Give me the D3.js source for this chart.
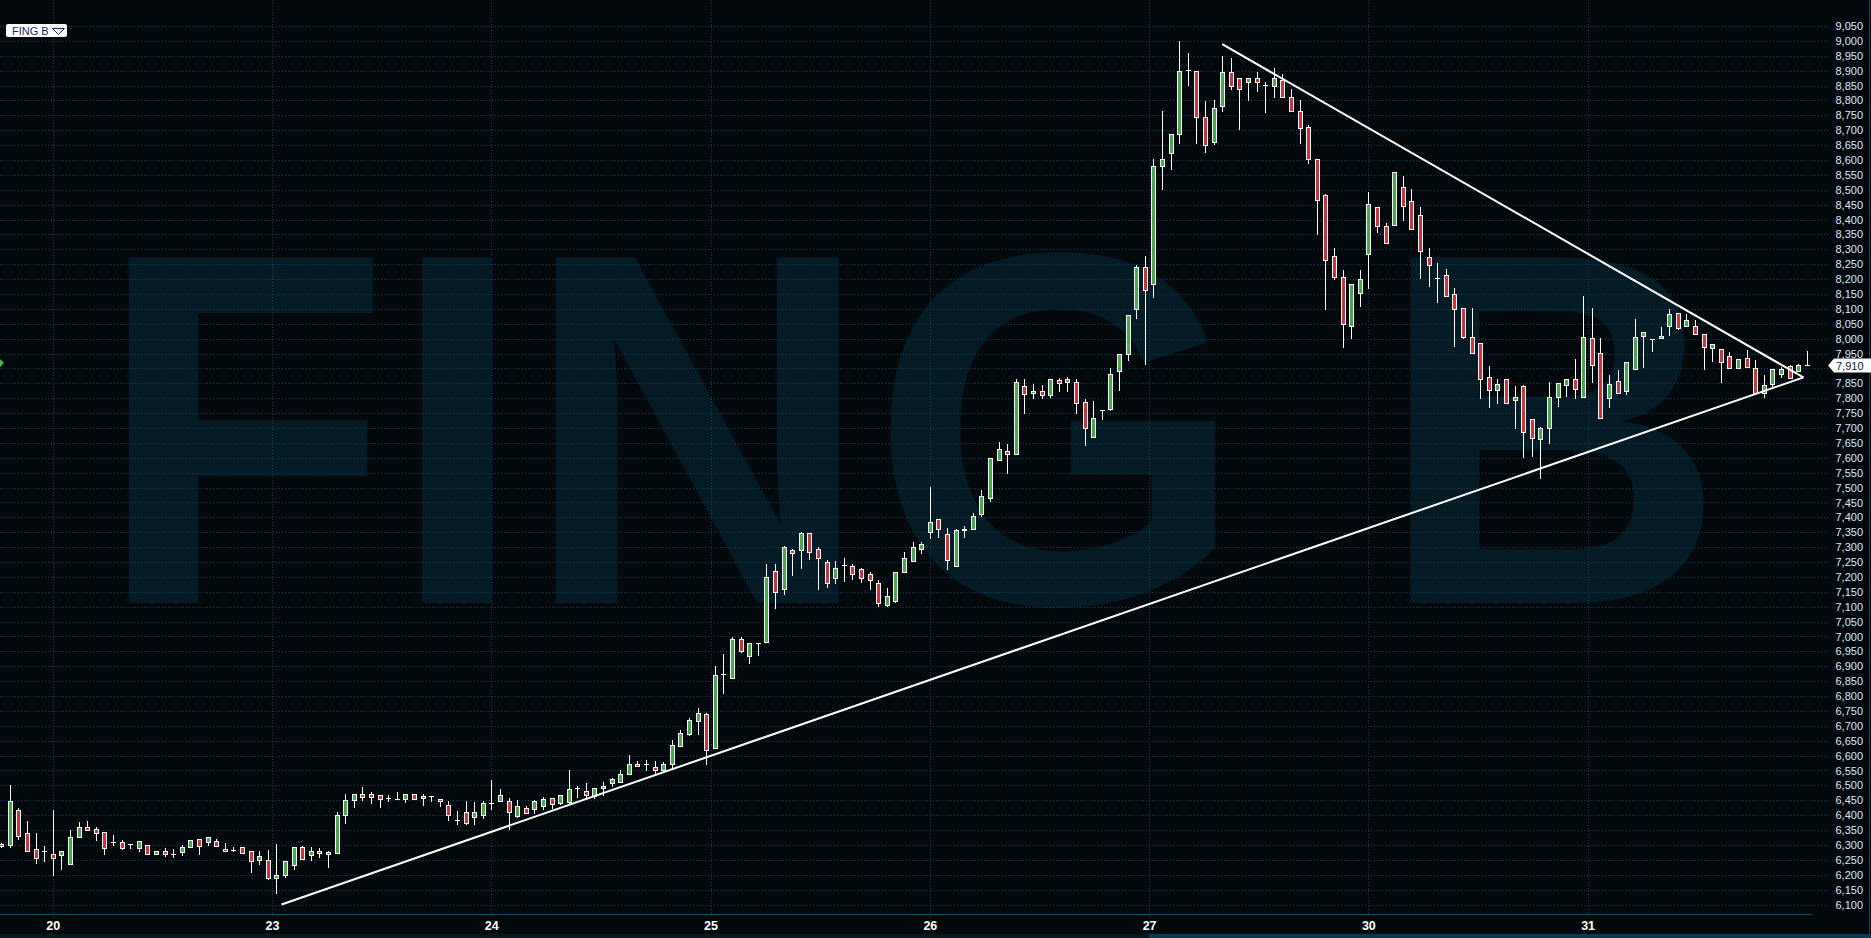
<!DOCTYPE html>
<html><head><meta charset="utf-8">
<script src="https://cdn.jsdelivr.net/npm/d3@7"></script>
<style>
html,body{margin:0;padding:0;background:#03080c;overflow:hidden}
svg{display:block}
</style></head><body>
<svg id="c" width="1871" height="938"></svg>
<script>
// ---- data ----
const symbol = "FING B";
const firstIndex = -6;   // candle index of the first (partial) candle; 0 = first candle of day 20
const opens = [6302,6301,6419,6341,6288,6280,
6271,6267,6237,6325,6361,6355,6345,6310,6311,6303,6291,6301,6271,6279,6270,6276,6294,6321,6311,6314,6288,6283,6294,6281,6251,6251,
6190,6200,6232,6293,6265,6279,6269,6274,6400,6450,6470,6470,6467,6457,6454,6453,6470,6457,6464,6453,6433,6384,6410,6395,6402,
6442,6449,6448,6398,6423,6422,6430,6457,6441,6445,6490,6480,6466,6490,6509,6510,6537,6571,6573,6561,6551,6571,6631,6672,6715,
6741,6624,6874,6859,6990,6935,6977,6980,7221,7160,7289,7289,7346,7295,7249,7198,7239,7238,7225,7211,7181,7106,7120,7215,7252,7295,
7352,7393,7343,7238,7356,7362,7412,7466,7591,7624,7614,7840,7816,7823,7812,7860,7853,7853,7786,7671,7761,7765,7893,7950,8101,
8242,8182,8581,8622,8689,8902,8900,8743,8662,8783,8894,8874,8862,8874,8853,8849,8870,8813,8763,8712,8605,8481,8279,8206,8044,8152,
8286,8443,8380,8383,8508,8464,8414,8275,8205,8213,8151,8102,8004,7987,7873,7827,7866,7794,7840,7729,7662,7699,7803,7845,7864,7803,
8001,7951,7800,7857,7823,7898,8008,8000,8001,8043,8085,8044,8044,8016,7968,7964,7943,7900,7936,7903,7819,7847,7880,7907,7892,7910];
const highs = [6305,6500,6424,6379,6341,6295,
6416,6279,6351,6376,6379,6360,6345,6335,6316,6303,6314,6301,6281,6291,6288,6301,6318,6321,6325,6321,6308,6294,6294,6281,6281,6284,
6302,6245,6292,6297,6292,6289,6279,6410,6470,6470,6494,6478,6467,6467,6478,6470,6470,6470,6464,6453,6446,6414,6448,6443,6448,
6518,6487,6457,6450,6431,6451,6461,6457,6467,6552,6499,6508,6490,6511,6524,6551,6602,6581,6584,6581,6577,6652,6686,6725,6760,
6744,6900,6940,6999,6999,6979,6977,7243,7243,7304,7293,7352,7346,7302,7256,7253,7263,7243,7231,7218,7191,7162,7218,7283,7318,7318,
7502,7393,7365,7362,7372,7414,7493,7601,7652,7645,7863,7863,7847,7843,7863,7868,7873,7866,7797,7790,7761,7900,7950,8081,8246,
8279,8602,8764,8688,9001,8961,8900,8797,8801,8949,8942,8874,8874,8894,8863,8910,8890,8837,8800,8717,8605,8485,8304,8232,8182,8232,
8491,8443,8390,8561,8546,8502,8443,8303,8253,8233,8171,8102,8102,7987,7908,7864,7866,7841,7844,7729,7705,7853,7850,7864,7932,8143,
8103,8001,7877,7895,7921,8065,8021,8000,8040,8100,8085,8083,8063,8016,7981,7964,7955,7931,7961,7927,7878,7899,7906,7912,7915,7960];
const lows = [6292,6293,6320,6281,6240,6246,
6200,6219,6237,6325,6350,6317,6271,6301,6286,6291,6280,6271,6271,6263,6260,6267,6294,6271,6301,6298,6281,6281,6274,6209,6236,6184,
6140,6194,6220,6252,6251,6261,6227,6274,6372,6429,6450,6442,6429,6447,6454,6445,6453,6435,6446,6431,6384,6369,6370,6370,6389,
6422,6449,6355,6393,6406,6407,6421,6424,6439,6442,6462,6457,6459,6468,6499,6510,6537,6564,6552,6541,6551,6563,6631,6668,6672,
6571,6624,6811,6859,6947,6911,6938,6980,7096,7144,7207,7230,7261,7160,7167,7180,7187,7193,7183,7160,7104,7104,7116,7215,7252,7281,
7332,7334,7227,7238,7334,7362,7405,7456,7591,7550,7614,7751,7802,7802,7805,7825,7825,7751,7644,7671,7731,7761,7828,7929,8071,
7916,8141,8503,8570,8658,8851,8658,8628,8654,8765,8839,8705,8802,8832,8762,8812,8813,8763,8658,8590,8352,8100,8201,7971,8001,8110,
8171,8359,8320,8383,8399,8367,8204,8176,8124,8142,7977,8001,7951,7802,7772,7783,7784,7701,7602,7605,7531,7651,7775,7809,7802,7803,
7855,7733,7769,7817,7813,7898,7904,7960,8001,8012,8031,8044,8016,7897,7925,7853,7900,7900,7905,7817,7805,7841,7870,7869,7892,7910];
const closes = [6296,6449,6331,6281,6256,6280,
6256,6279,6325,6361,6350,6341,6291,6310,6291,6302,6314,6271,6281,6271,6270,6294,6318,6298,6325,6298,6281,6283,6274,6247,6264,6190,
6200,6245,6292,6252,6279,6272,6275,6400,6450,6470,6460,6460,6453,6457,6454,6470,6453,6463,6464,6446,6400,6384,6375,6410,6441,
6442,6467,6410,6430,6406,6448,6454,6439,6467,6487,6490,6467,6490,6497,6520,6537,6571,6564,6573,6551,6571,6635,6675,6720,6742,
6620,6872,6874,6990,6952,6979,6977,7200,7151,7299,7281,7346,7285,7265,7181,7231,7239,7211,7195,7191,7111,7136,7218,7262,7302,7312,
7386,7361,7258,7357,7362,7403,7471,7601,7631,7614,7853,7815,7823,7812,7863,7850,7866,7785,7699,7732,7761,7880,7950,8081,8242,
8162,8581,8602,8688,8900,8902,8743,8649,8773,8894,8847,8840,8874,8862,8853,8874,8813,8763,8709,8605,8467,8263,8206,8048,8182,8202,
8451,8380,8320,8561,8444,8367,8293,8249,8205,8142,8101,8004,7951,7864,7827,7847,7784,7803,7686,7666,7699,7803,7850,7864,7830,8005,
7911,7733,7847,7817,7921,8004,8021,8000,8008,8083,8035,8064,8016,7971,7981,7923,7900,7931,7905,7817,7845,7899,7899,7869,7910,7910];
const dayLabels = ["20","23","24","25","26","27","30","31"];
const dayStarts = [0,25.5,51,76.5,102,127.5,153,178.5];   // candle-index position of each day's start
const priceTicks = d3.range(6100, 9051, 50);
const lastPrice = 7910;
const trendLines = [
  {from:[26.6,6100], to:[203.6,7870]},
  {from:[136,8989],  to:[203.6,7870]}
];

// ---- layout ----
const W = 1871, H = 938;
const plotRight = 1830, axisY = 914;
const x = d3.scaleLinear().domain([0,178.5]).range([52.8,1587.6]);
const y = d3.scaleLinear().domain([6100,9050]).range([904.5,26]);

const svg = d3.select("#c");
svg.append("rect").attr("width",W).attr("height",H).attr("fill","#03080c");

const defs = svg.append("defs");
defs.append("clipPath").attr("id","plot").append("rect")
  .attr("x",0).attr("y",0).attr("width",plotRight).attr("height",axisY);

// watermark
svg.append("text").text(symbol)
  .attr("transform","translate(911,603) scale(0.995,1.04)")
  .attr("text-anchor","middle")
  .attr("font-family","'Liberation Sans',Arial,sans-serif").attr("font-weight","bold")
  .attr("font-size",483).attr("fill","#041b25");

// grid
const grid = svg.append("g").attr("clip-path","url(#plot)");
grid.selectAll("line.h").data(priceTicks).join("line")
  .attr("x1",0).attr("x2",plotRight-1)
  .attr("y1",d=>Math.round(y(d))+0.5).attr("y2",d=>Math.round(y(d))+0.5)
  .attr("stroke","#0e4261").attr("stroke-dasharray","1,2");
grid.selectAll("line.v").data(dayStarts).join("line")
  .attr("y1",0).attr("y2",axisY)
  .attr("x1",d=>Math.round(x(d))+0.5).attr("x2",d=>Math.round(x(d))+0.5)
  .attr("stroke","#0e4261").attr("stroke-dasharray","1,2");

// candles
const candles = opens.map((o,k)=>({i:firstIndex+k,o,h:highs[k],l:lows[k],c:closes[k]}));
const cg = svg.append("g").attr("clip-path","url(#plot)");
const px = d=>Math.round(x(d.i))+0.5;
cg.selectAll("line.w").data(candles).join("line")
  .attr("x1",px).attr("x2",px)
  .attr("y1",d=>Math.round(y(d.h))).attr("y2",d=>Math.round(y(d.l))+1)
  .attr("stroke","#ffffff").attr("stroke-width",1);
cg.selectAll("rect.b").data(candles).join("rect")
  .attr("x",d=>px(d)-2).attr("width",4)
  .attr("y",d=>Math.round(y(Math.max(d.o,d.c)))+0.5)
  .attr("height",d=>Math.max(Math.round(y(Math.min(d.o,d.c)))-Math.round(y(Math.max(d.o,d.c))),0.01))
  .attr("fill",d=>d.c>=d.o?"#4aa84c":"#c8363c")
  .attr("stroke","#ffffff").attr("stroke-width",1);

// trend lines
svg.append("g").attr("clip-path","url(#plot)").selectAll("line").data(trendLines).join("line")
  .attr("x1",d=>x(d.from[0])).attr("y1",d=>y(d.from[1]))
  .attr("x2",d=>x(d.to[0])).attr("y2",d=>y(d.to[1]))
  .attr("stroke","#ffffff").attr("stroke-width",2);

// x axis
svg.append("line").attr("x1",0).attr("x2",1812).attr("y1",axisY+0.5).attr("y2",axisY+0.5)
  .attr("stroke","#0d4a66").attr("stroke-width",1);
const xa = svg.append("g").attr("transform",`translate(0,${axisY})`)
  .call(d3.axisBottom(x).tickValues(dayStarts).tickFormat((d,i)=>dayLabels[i]).tickSize(0).tickPadding(7));
xa.select(".domain").remove();
xa.selectAll("text").attr("fill","#ffffff")
  .attr("font-family","'Liberation Sans Narrow','Arial Narrow','Liberation Sans',sans-serif")
  .attr("font-stretch","condensed").attr("font-weight","bold").attr("font-size",12.5);

// y axis
const ya = svg.append("g").attr("transform","translate(1863,0)")
  .call(d3.axisRight(y).tickValues(priceTicks).tickFormat(d3.format(",")).tickSize(0).tickPadding(0));
ya.select(".domain").remove();
ya.selectAll("text").attr("text-anchor","end").attr("x",0).attr("fill","#dde8f8")
  .attr("font-family","'Liberation Sans',Arial,sans-serif").attr("font-size",11);
ya.selectAll(".tick").filter(d=>Math.abs(d-lastPrice)<30).remove();

// right border
svg.append("line").attr("x1",1869.5).attr("x2",1869.5).attr("y1",0).attr("y2",H)
  .attr("stroke","#0d4a66");

// last price tag
const ty = Math.round(y(lastPrice));
svg.append("path")
  .attr("d",`M1828,${ty+0.5} L1834,${ty-6.5} L1871,${ty-6.5} L1871,${ty+7.5} L1834,${ty+7.5} Z`)
  .attr("fill","#ffffff");
svg.append("text").text(d3.format(",")(lastPrice)).attr("x",1836).attr("y",ty+4.5)
  .attr("fill","#0a1834").attr("font-family","'Liberation Sans',Arial,sans-serif").attr("font-size",11);

// left marker
svg.append("path").attr("d",`M0,${ty-6} L4,${ty-2} L0,${ty+2} Z`).attr("fill","#39c24a");

// scrollbar
svg.append("rect").attr("x",0).attr("y",934).attr("width",W).attr("height",4).attr("fill","#051820");
svg.append("rect").attr("x",1149).attr("y",934).attr("width",W-1149).attr("height",4).attr("fill","#0b3a4f");

// symbol label
svg.append("rect").attr("x",6).attr("y",24).attr("width",61).attr("height",13).attr("rx",2).attr("fill","#ffffff");
svg.append("text").text(symbol).attr("x",12).attr("y",34.5)
  .attr("fill","#16265a").attr("font-family","'Liberation Sans',Arial,sans-serif").attr("font-size",11);
svg.append("path").attr("d","M52.5,28.5 L64.5,28.5 L58.5,34.5 Z").attr("fill","none").attr("stroke","#16265a");
</script>
</body></html>
